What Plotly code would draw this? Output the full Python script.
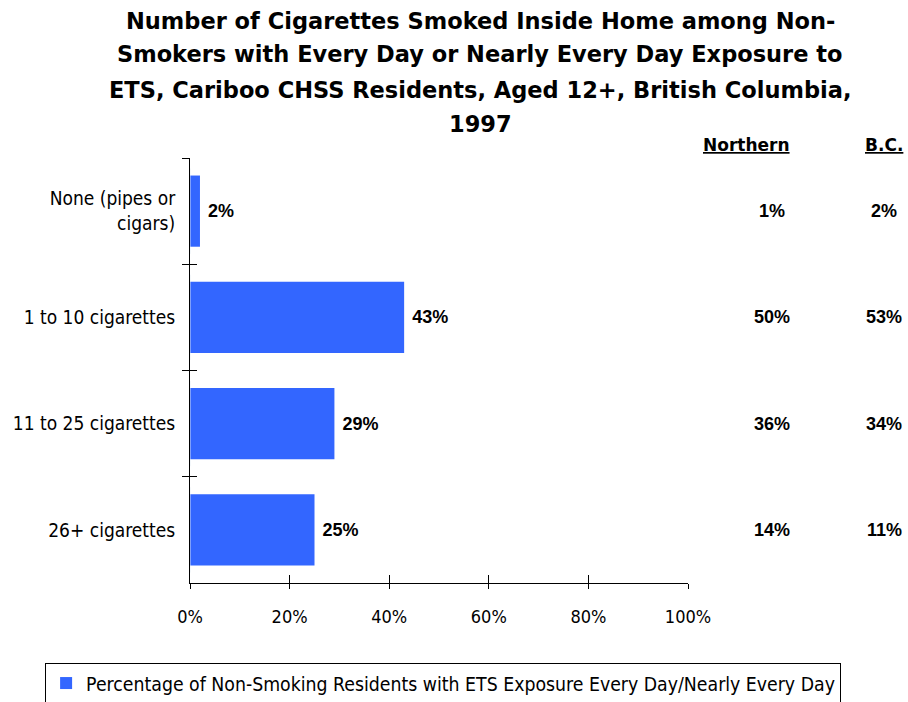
import plotly.graph_objects as go

categories = ["None (pipes or<br>cigars)", "1 to 10 cigarettes", "11 to 25 cigarettes", "26+ cigarettes"]
cariboo = [2, 43, 29, 25]
northern = [1, 50, 36, 14]
bc = [2, 53, 34, 11]
x_ticks = [0, 20, 40, 60, 80, 100]
x_tick_labels = ["0%", "20%", "40%", "60%", "80%", "100%"]
series_name = "Percentage of Non-Smoking Residents with ETS Exposure Every Day/Nearly Every Day"
title_lines = [
    "Number of Cigarettes Smoked Inside Home among Non-",
    "Smokers with Every Day or Nearly Every Day Exposure to",
    "ETS, Cariboo CHSS Residents, Aged 12+, British Columbia,",
    "1997",
]
title_line_y = [1.322, 1.245, 1.161, 1.080]

FONT = "DejaVu Sans Condensed, Liberation Sans Narrow, sans-serif"
TITLE_FONT = "DejaVu Sans, sans-serif"
NUM_FONT = "Liberation Sans, Arial, sans-serif"

fig = go.Figure()
fig.add_trace(go.Bar(
    y=categories, x=cariboo, orientation="h", name=series_name,
    marker=dict(color="#3366FF", line=dict(width=0)),
    width=0.67,
    texttemplate="\u00a0<b>%{x}%</b>", textposition="outside", cliponaxis=False,
    textfont=dict(family=NUM_FONT, size=18, color="black"),
))
# transparent companion trace on overlay axes, giving ticks that cross the axis lines
fig.add_trace(go.Bar(y=categories, x=[0] * len(categories), orientation="h", xaxis="x2", yaxis="y2",
                     showlegend=False, hoverinfo="skip", marker=dict(color="rgba(0,0,0,0)")))

fig.update_layout(
    width=908, height=702,
    paper_bgcolor="white", plot_bgcolor="white",
    margin=dict(l=190, r=220, t=158, b=119),
    font=dict(family=FONT, size=18, color="black"),
    showlegend=True,
    legend=dict(orientation="h", xref="container", yref="container", x=0.488, xanchor="center",
                y=1 - 663 / 702, yanchor="top",
                bordercolor="black", borderwidth=1, font=dict(family=FONT, size=19.3),
                itemwidth=30),
    xaxis=dict(range=[0, 100], tickvals=x_ticks, ticktext=x_tick_labels, showgrid=False,
               showline=True, linecolor="black", linewidth=1, ticks="outside", ticklen=5,
               tickcolor="black", zeroline=False, ticklabelstandoff=12, tickfont=dict(size=18),
               automargin=False),
    yaxis=dict(autorange="reversed", showline=True, linecolor="black", linewidth=1,
               ticks="outside", ticklen=7, tickcolor="black", tickson="boundaries",
               showgrid=False, ticklabelstandoff=10, tickfont=dict(size=19), automargin=False),
    xaxis2=dict(range=[0, 100], tickvals=x_ticks, overlaying="x", side="bottom", anchor="y",
                ticks="inside", ticklen=8, tickcolor="black", showticklabels=False,
                showgrid=False, showline=False, zeroline=False),
    yaxis2=dict(autorange="reversed", overlaying="y", anchor="x", ticks="inside", ticklen=7,
                tickcolor="black", tickson="boundaries", showticklabels=False,
                showgrid=False, showline=False, type="category"),
)

for line, ty in zip(title_lines, title_line_y):
    fig.add_annotation(text=f"<b>{line}</b>", xref="paper", yref="paper", x=0.583, y=ty,
                       xanchor="center", yanchor="middle", showarrow=False,
                       font=dict(family=TITLE_FONT, size=22.5, color="black"))

hdr_font = dict(family=TITLE_FONT, size=17, color="black")
fig.add_annotation(text="<b><u>Northern</u></b>", xref="paper", yref="paper", x=1.118, y=1.031,
                   xanchor="center", yanchor="middle", showarrow=False, font=hdr_font)
fig.add_annotation(text="<b><u>B.C.</u></b>", xref="paper", yref="paper", x=1.394, y=1.031,
                   xanchor="center", yanchor="middle", showarrow=False, font=hdr_font)

val_font = dict(family=NUM_FONT, size=18, color="black")
for cat, n, b in zip(categories, northern, bc):
    fig.add_annotation(text=f"<b>{n}%</b>", xref="paper", yref="y", x=1.169, y=cat,
                       xanchor="center", showarrow=False, font=val_font)
    fig.add_annotation(text=f"<b>{b}%</b>", xref="paper", yref="y", x=1.394, y=cat,
                       xanchor="center", showarrow=False, font=val_font)

fig.write_html("out.html", config={"displayModeBar": False},
               post_script="document.body.style.margin='0';")
